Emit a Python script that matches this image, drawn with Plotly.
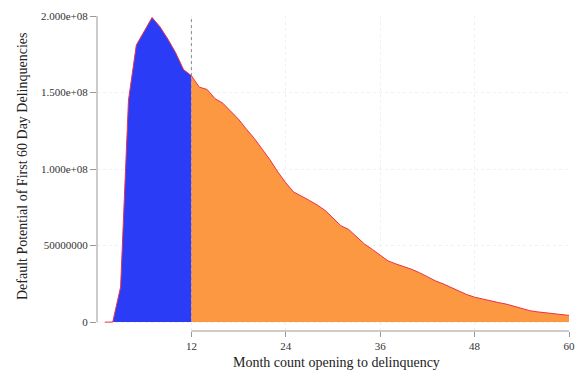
import plotly.graph_objects as go

# Months since account opening and the default potential of first 60-day delinquencies
months = list(range(1, 61))
default_potential = [
    0, 0, 23e6, 145e6, 181e6, 190e6, 199e6, 193e6, 185e6, 176e6,
    165e6, 161e6, 153.5e6, 152e6, 146e6, 143e6, 138e6, 132.5e6, 126e6, 120e6,
    113e6, 106e6, 98e6, 91e6, 85e6, 82.5e6, 79.5e6, 76.5e6, 73e6, 68e6,
    63e6, 60.5e6, 56e6, 51e6, 47.5e6, 44e6, 40e6, 38e6, 36.5e6, 34.5e6,
    32.3e6, 29.5e6, 27e6, 25e6, 22.5e6, 20.5e6, 18e6, 16.3e6, 15e6, 14e6,
    12.8e6, 11.8e6, 10.3e6, 9e6, 7.5e6, 6.7e6, 6.2e6, 5.6e6, 5e6, 4.4e6,
]
cutoff_month = 12

x_ticks = [12, 24, 36, 48, 60]
y_ticks = [0, 50000000, 100000000, 150000000, 200000000]
y_tick_text = ["0", "50000000", "1.000e+08", "1.500e+08", "2.000e+08"]

first_year_x = [m for m in months if m <= cutoff_month]
first_year_y = default_potential[:len(first_year_x)]
later_x = [m for m in months if m >= cutoff_month]
later_y = default_potential[cutoff_month - 1:]

FONT = "Liberation Serif"
LINE_RED = "#e8324a"

fig = go.Figure()
fig.add_trace(go.Scatter(
    x=first_year_x, y=first_year_y, mode="lines", fill="tozeroy",
    fillcolor="#2b3cf6", line=dict(color=LINE_RED, width=1),
    hoverinfo="x+y", showlegend=False,
))
fig.add_trace(go.Scatter(
    x=later_x, y=later_y, mode="lines", fill="tozeroy",
    fillcolor="#fd9842", line=dict(color=LINE_RED, width=1),
    hoverinfo="x+y", showlegend=False,
))

plot_h = 379 - 12 - 48
y_bottom = -9 / 310 * 2e8

fig.update_layout(
    width=585, height=379,
    margin=dict(l=97, r=10, t=12, b=48),
    paper_bgcolor="white", plot_bgcolor="white",
    font=dict(family=FONT, color="#333333", size=11),
    xaxis=dict(
        range=[0, 60], tickvals=x_ticks, ticktext=[str(v) for v in x_ticks],
        ticks="outside", ticklen=5, tickcolor="#999999", tickwidth=1,
        showline=False, zeroline=False,
        showgrid=True, gridcolor="#f0f0f0", griddash="dot", gridwidth=1,
        tickfont=dict(family=FONT, size=11, color="#333333"),
    ),
    yaxis=dict(
        range=[y_bottom, 2e8], tickvals=y_ticks, ticktext=y_tick_text,
        ticks="outside", ticklen=6, tickcolor="#999999", tickwidth=1,
        showline=False, zeroline=False,
        showgrid=True, gridcolor="#f0f0f0", griddash="dot", gridwidth=1,
        tickfont=dict(family=FONT, size=11, color="#333333"),
    ),
    shapes=[
        # y axis line spanning the labelled range
        dict(type="line", xref="paper", yref="y", x0=0, x1=0, y0=0, y1=2e8,
             line=dict(color="#999999", width=1)),
        # x axis line from the first to the last tick
        dict(type="line", xref="x", yref="paper", x0=12, x1=60, y0=0, y1=0,
             line=dict(color="#999999", width=1)),
        # first-year cutoff marker
        dict(type="line", xref="x", yref="y", x0=cutoff_month, x1=cutoff_month,
             y0=0, y1=2e8, layer="below",
             line=dict(color="#888888", width=1, dash="dot")),
    ],
    annotations=[
        dict(text="Month count opening to delinquency", xref="paper", yref="paper",
             x=(340 - 97) / 478, y=-(363 - 331) / plot_h,
             xanchor="center", yanchor="middle", showarrow=False,
             font=dict(family=FONT, size=14, color="#222222")),
        dict(text="Default Potential of First 60 Day Delinquencies",
             xref="paper", yref="paper",
             x=(21 - 97) / 478, y=1 - (164 - 12) / plot_h,
             xanchor="center", yanchor="middle", textangle=-90, showarrow=False,
             font=dict(family=FONT, size=14, color="#222222")),
    ],
)

fig.write_html("out.html")
